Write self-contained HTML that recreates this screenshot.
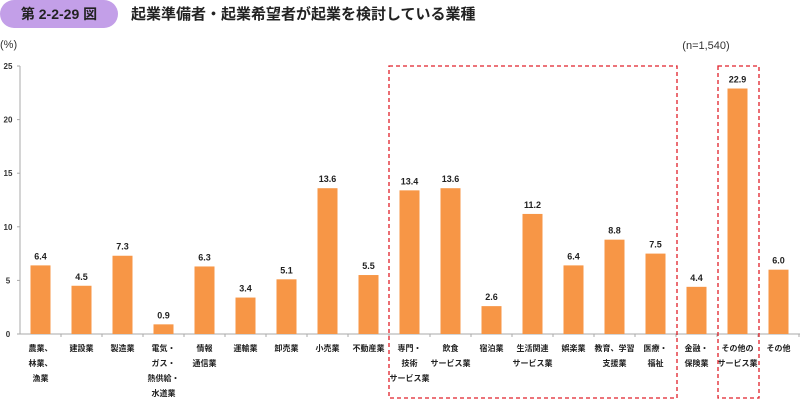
<!DOCTYPE html>
<html><head><meta charset="utf-8"><style>
body{margin:0;width:800px;height:400px;background:#fff;overflow:hidden;font-family:"Liberation Sans","Noto Sans CJK JP",sans-serif}
</style></head><body>
<svg width="800" height="400" font-family="Liberation Sans, Noto Sans CJK JP, sans-serif">
<rect x="0" y="0" width="118" height="28" rx="14" fill="#c39fe8"/>
<text x="59" y="19" text-anchor="middle" font-size="14" font-weight="bold" fill="#222">第 2-2-29 図</text>
<text x="131" y="19" font-size="15" font-weight="bold" fill="#222">起業準備者・起業希望者が起業を検討している業種</text>
<text x="0" y="48" font-size="11" fill="#333">(%)</text>
<text x="706" y="49" text-anchor="middle" font-size="11" fill="#333">(n=1,540)</text>
<g id="axes"></g>
<g id="bars"></g>
<rect x="389" y="66" width="288" height="332" fill="none" stroke="#e0202a" stroke-width="1.3" stroke-dasharray="4,3"/>
<rect x="718" y="66" width="41" height="332" fill="none" stroke="#e0202a" stroke-width="1.3" stroke-dasharray="4,3"/>
</svg>
<script>
const categories=[["農業、","林業、","漁業"],["建設業"],["製造業"],["電気・","ガス・","熱供給・","水道業"],["情報","通信業"],["運輸業"],["卸売業"],["小売業"],["不動産業"],["専門・","技術","サービス業"],["飲食","サービス業"],["宿泊業"],["生活関連","サービス業"],["娯楽業"],["教育、学習","支援業"],["医療・","福祉"],["金融・","保険業"],["その他の","サービス業"],["その他"]];
const values=[6.4,4.5,7.3,0.9,6.3,3.4,5.1,13.6,5.5,13.4,13.6,2.6,11.2,6.4,8.8,7.5,4.4,22.9,6.0];
const ticks=[0,5,10,15,20,25];
const NS="http://www.w3.org/2000/svg";
const y0=334,pxu=(334-66)/25,x0=20,step=41;
const yS=v=>y0-v*pxu;
const xS=i=>x0+step*(i+0.5);
function mk(t,a,p){const e=document.createElementNS(NS,t);for(const k in a)e.setAttribute(k,a[k]);p.appendChild(e);return e;}
const ax=document.getElementById('axes'),bg=document.getElementById('bars');
const yl=mk('line',{x1:x0,y1:yS(25),x2:x0,y2:y0,stroke:'#aaa'},ax);


const xl=mk('line',{x1:x0,y1:y0,x2:800,y2:y0,stroke:'#aaa'},ax);


ticks.forEach(t=>{
 mk('line',{x1:x0-3,y1:yS(t),x2:x0,y2:yS(t),stroke:'#aaa'},ax);
 const tx=mk('text',{x:8,y:yS(t)+3,'text-anchor':'middle','font-size':8,'font-weight':'bold',fill:'#333'},ax);
 tx.textContent=t;
 
 
});
values.forEach((v,i)=>{
 const cx=xS(i);
 mk('line',{x1:x0+step*(i+1),y1:y0,x2:x0+step*(i+1),y2:y0+3,stroke:'#aaa'},ax);
 const r=mk('rect',{x:cx-10,y:yS(v),width:20,height:y0-yS(v),fill:'#f79646'},bg);
 
 
 const lb=mk('text',{x:cx,y:yS(v)-6,'text-anchor':'middle','font-size':9,'font-weight':'bold',fill:'#222'},bg);
 lb.textContent=v.toFixed(1);
 
 
 categories[i].forEach((s,j)=>{
  const c=mk('text',{x:cx,y:351+j*15,'text-anchor':'middle','font-size':8,'font-weight':'bold',fill:'#222'},ax);
  c.textContent=s;
  
  
 });
});
</script>
</body></html>
